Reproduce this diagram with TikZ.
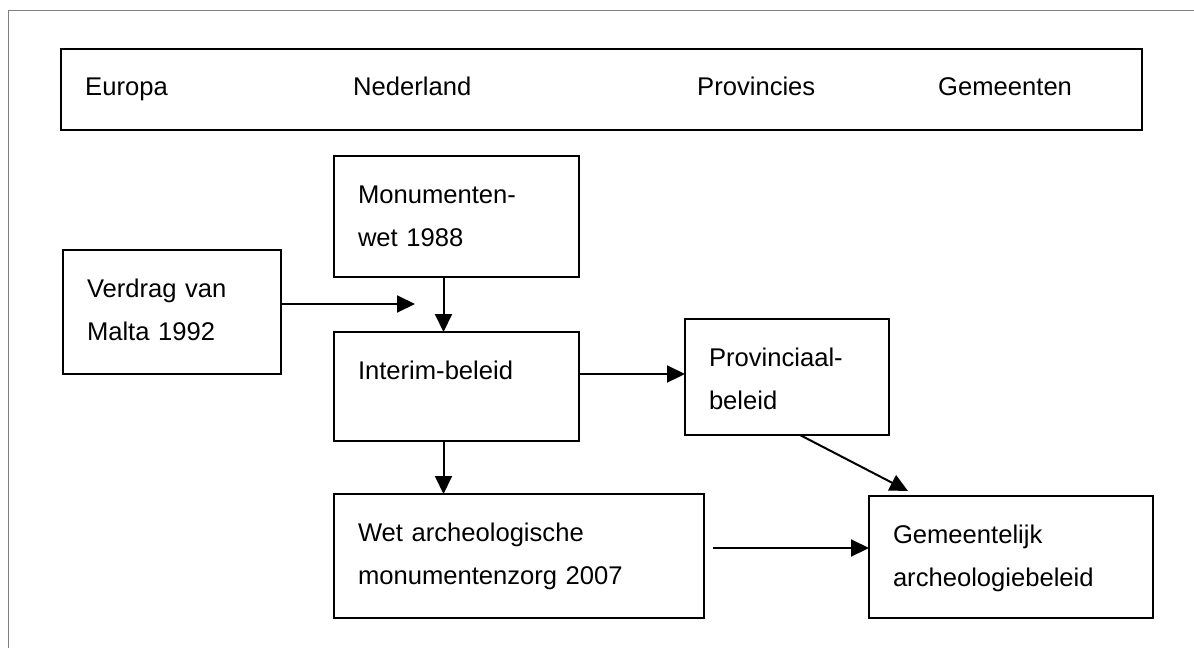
\documentclass[tikz,border=0pt]{standalone}
\usepackage{fontspec}
\setmainfont{Liberation Sans}
\usepackage{tikz}
\usetikzlibrary{positioning,arrows.meta}

\begin{document}
\begin{tikzpicture}[x=1pt, y=-1pt,
        >={Triangle[length=18pt,width=17pt]},
        tekst/.style={font=\fontsize{25.6pt}{43pt}\selectfont},
        kader/.style={draw, tekst, line width=2pt, anchor=north west, align=left,
            inner xsep=24pt, inner ysep=0pt, outer sep=0pt, text height=47pt},
        pijl/.style={->, line width=2pt}]
        \useasboundingbox (0,0) rectangle (1194,648);
        \draw[gray, line width=1pt] (1194,10) -| (8,648);

        \node[draw, line width=2pt, anchor=north west, minimum width=1081pt, minimum height=81pt, inner sep=0pt] (lagen) at (60,48) {};
        \node[tekst, anchor=base west, inner sep=0pt] (europa) at (85,95) {Europa};
        \node[tekst, anchor=base west, inner sep=0pt] (nederland) at (353,95) {Nederland};
        \node[tekst, anchor=base west, inner sep=0pt] (provincies) at (697,95) {Provincies};
        \node[tekst, anchor=base west, inner sep=0pt] (gemeenten) at (938,95) {Gemeenten};

        \node[kader, text width=170pt, text depth=77pt] (verdrag) at (63,250) {Verdrag van\\Malta 1992};
        \node[kader, text width=197pt, text depth=74pt] (monumentenwet) at (334,156) {Monumenten-\\wet 1988};
        \node[kader, text width=197pt, text depth=62pt, below=55pt of monumentenwet.south west, anchor=north west] (interim) {Interim-beleid};
        \node[kader, text width=156pt, text depth=69pt, right=106pt of interim.north east, anchor=north west, yshift=13pt] (provinciaal) {Provinciaal-\\beleid};
        \node[kader, text width=322pt, text depth=77pt, below=53pt of interim.south west, anchor=north west] (wet) {Wet archeologische\\monumentenzorg 2007};
        \node[kader, text width=236pt, text depth=75pt, right=165pt of wet.north east, anchor=north west, yshift=-2pt] (gemeentelijk) {Gemeentelijk\\archeologiebeleid};

        \coordinate (maltapijl) at (415,304);
        \draw[pijl] (verdrag.east |- maltapijl) -- (maltapijl);
        \draw[pijl] ([xshift=-13pt]monumentenwet.south) -- ([xshift=-13pt]interim.north);
        \draw[pijl] ([yshift=3pt]interim.east |- provinciaal.west) -- ([yshift=3pt]provinciaal.west);
        \draw[pijl] ([xshift=-13pt]interim.south) -- ([xshift=-13pt]interim.south |- wet.north);
        \draw[pijl] ([xshift=9pt,yshift=8pt]wet.east) -- ([yshift=8pt]wet.east -| gemeentelijk.west);
        \draw[pijl] ([xshift=13pt]provinciaal.south) -- ([xshift=39pt,yshift=5pt]gemeentelijk.north west);
    \end{tikzpicture}
\end{document}
